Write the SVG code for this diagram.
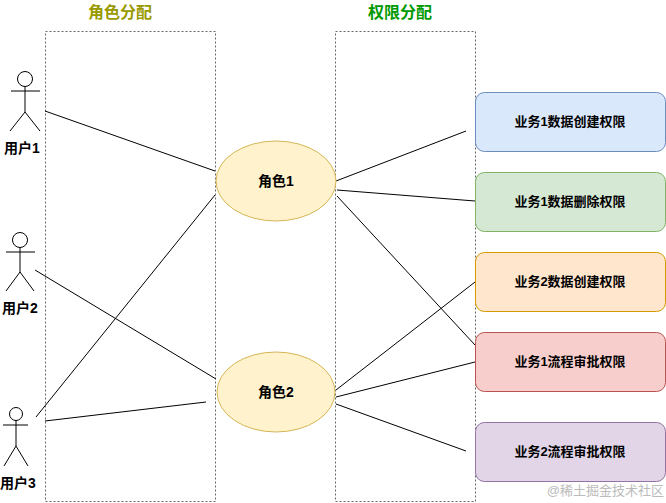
<svg xmlns="http://www.w3.org/2000/svg" width="666" height="503" viewBox="0 0 666 503">
<style>
text{font-family:"Liberation Sans","Noto Sans CJK SC",sans-serif;fill:#000}
.lbl{font-size:14px;font-weight:bold;text-anchor:middle}
.ttl{font-size:16px;font-weight:bold;text-anchor:middle}
.zone{fill:none;stroke:#666;stroke-dasharray:2 2}
.act{fill:none;stroke:#000;stroke-width:1}
.c line{stroke:#000;stroke-width:1}
.role{fill:#fff2cc;stroke:#d6b656}
.perm{font-size:13px;font-weight:bold;text-anchor:middle}
</style>
<rect width="666" height="503" fill="#fff"/>
<g id="zone-role"><rect class="zone" x="45.5" y="31.5" width="170" height="470"/><text class="ttl" x="120" y="18" style="fill:#999900">角色分配</text></g>
<g id="zone-perm"><rect class="zone" x="335.5" y="31.5" width="140" height="470"/><text class="ttl" x="400" y="18" style="fill:#009900">权限分配</text></g>
<g class="c" id="connectors">
<line x1="45" y1="111" x2="215" y2="171"/>
<line x1="35" y1="270" x2="216" y2="379"/>
<line x1="36" y1="417" x2="215" y2="195"/>
<line x1="45" y1="421" x2="206" y2="402"/>
<line x1="336" y1="181" x2="466" y2="131"/>
<line x1="337" y1="190" x2="475" y2="201"/>
<line x1="337" y1="196" x2="475" y2="345"/>
<line x1="336" y1="390" x2="475" y2="282"/>
<line x1="336" y1="397" x2="475" y2="362"/>
<line x1="336" y1="404" x2="466" y2="451"/>
</g>
<g id="user1" class="act"><circle cx="25" cy="79" r="7.5"/><path d="M25 86.5V112M11 91H40M25 112L10 131M25 112L40 131"/><text class="lbl" x="22" y="153" style="fill:#000;stroke:none">用户1</text></g>
<g id="user2" class="act"><circle cx="20" cy="240" r="7.5"/><path d="M20 247.5V272M6 252H35M20 272L6 291M20 272L34 291"/><text class="lbl" x="20" y="313" style="fill:#000;stroke:none">用户2</text></g>
<g id="user3" class="act"><circle cx="16" cy="414" r="6.5"/><path d="M16 420.5V446M3 425H28M16 446L4 466M16 446L28 466"/><text class="lbl" x="18" y="488" style="fill:#000;stroke:none">用户3</text></g>
<g id="role1"><ellipse class="role" cx="276" cy="181" rx="60" ry="40"/><text class="lbl" x="276" y="186">角色1</text></g>
<g id="role2"><ellipse class="role" cx="276" cy="392" rx="59" ry="40"/><text class="lbl" x="276" y="397">角色2</text></g>
<g id="p1"><rect x="475.5" y="92.5" width="190" height="59" rx="9" fill="#dae8fc" stroke="#6c8ebf"/><text class="perm" x="570" y="126">业务1数据创建权限</text></g>
<g id="p2"><rect x="475.5" y="172.5" width="190" height="59" rx="9" fill="#d5e8d4" stroke="#82b366"/><text class="perm" x="570" y="206">业务1数据删除权限</text></g>
<g id="p3"><rect x="475.5" y="252.5" width="190" height="59" rx="9" fill="#ffe6cc" stroke="#d79b00"/><text class="perm" x="570" y="286">业务2数据创建权限</text></g>
<g id="p4"><rect x="475.5" y="332.5" width="190" height="59" rx="9" fill="#f8cecc" stroke="#b85450"/><text class="perm" x="570" y="366">业务1流程审批权限</text></g>
<g id="p5"><rect x="475.5" y="422.5" width="190" height="59" rx="9" fill="#e1d5e7" stroke="#9673a6"/><text class="perm" x="570" y="456">业务2流程审批权限</text></g>
<text x="664" y="495" style="font-size:13px;fill:#bbb;text-anchor:end">@稀土掘金技术社区</text>
</svg>
